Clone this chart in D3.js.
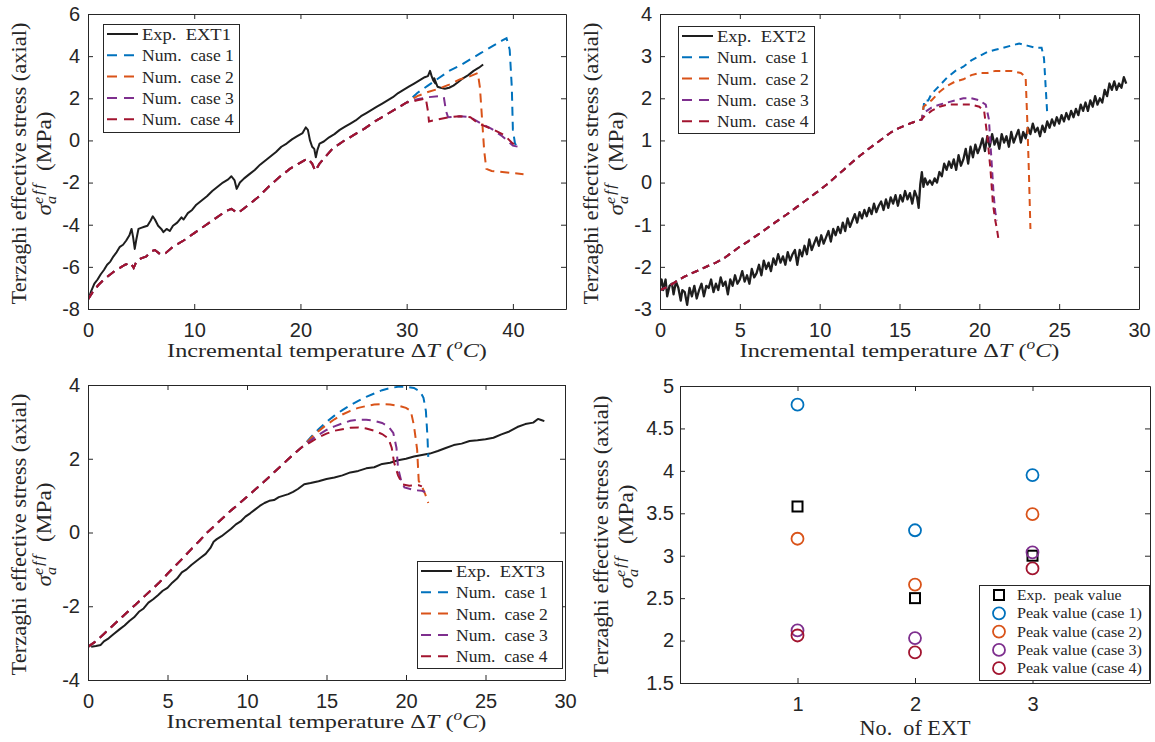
<!DOCTYPE html>
<html lang="en">
<head>
<meta charset="UTF-8">
<title>Terzaghi effective stress</title>
<script src="https://d3js.org/d3.v7.min.js"></script>
<style>
  body { margin: 0; background: #fff; }
  svg { display: block; }
</style>
</head>
<body>
<div id="fig"></div>
<script>
// ---- data ----
// EXT1: [dT, stress]
var ext1Exp = [[0.1,-7.45],[0.3,-7.15],[0.6,-6.8],[0.9,-6.6],[1.2,-6.35],[1.5,-6.15],[1.8,-5.9],[2.1,-5.75],[2.4,-5.5],[2.7,-5.3],[3.0,-5.05],[3.3,-4.95],[3.6,-4.75],[3.9,-4.5],[4.1,-4.2],[4.25,-4.6],[4.4,-5.15],[4.55,-4.7],[4.75,-4.2],[5.0,-4.15],[5.3,-4.1],[5.6,-4.05],[5.9,-3.8],[6.1,-3.6],[6.3,-3.75],[6.6,-4.05],[6.9,-4.2],[7.1,-4.35],[7.4,-4.2],[7.7,-4.3],[8.0,-4.05],[8.4,-3.9],[8.8,-3.65],[9.0,-3.75],[9.4,-3.45],[9.8,-3.3],[10.2,-3.05],[10.7,-2.85],[11.2,-2.65],[11.7,-2.4],[12.2,-2.2],[12.7,-2.0],[13.2,-1.85],[13.5,-1.7],[13.8,-1.9],[14.0,-2.3],[14.3,-2.0],[14.7,-1.8],[15.2,-1.6],[15.7,-1.4],[16.2,-1.15],[16.7,-0.95],[17.2,-0.75],[17.7,-0.55],[18.2,-0.3],[18.7,-0.15],[19.2,0.05],[19.7,0.2],[20.2,0.35],[20.5,0.62],[20.7,0.5],[20.9,0.0],[21.1,-0.3],[21.3,-0.4],[21.45,-0.8],[21.6,-0.45],[21.8,-0.15],[22.2,-0.05],[22.7,0.15],[23.2,0.3],[23.7,0.5],[24.2,0.65],[24.7,0.8],[25.2,0.95],[25.7,1.15],[26.2,1.3],[26.7,1.45],[27.2,1.6],[27.7,1.75],[28.2,1.9],[28.7,2.05],[29.2,2.25],[29.7,2.4],[30.2,2.55],[30.7,2.7],[31.2,2.85],[31.7,3.0],[32.0,3.05],[32.2,3.3],[32.35,3.05],[32.5,2.85],[32.7,2.7],[32.6,2.95],[32.9,2.55],[33.2,2.5],[33.6,2.45],[34.0,2.5],[34.4,2.6],[34.8,2.75],[35.3,2.95],[35.8,3.1],[36.3,3.3],[36.8,3.45],[37.2,3.6]];
// part shared by the four numerical cases
var ext1NumCommon = [[0,-7.55],[0.5,-7.15],[1,-6.85],[1.5,-6.6],[2,-6.4],[2.5,-6.2],[3,-6.05],[3.5,-5.9],[4,-5.8],[4.3,-6.05],[4.6,-5.7],[5,-5.6],[5.5,-5.5],[6,-5.25],[6.3,-5.2],[6.8,-5.4],[7.3,-5.35],[8,-5.05],[9,-4.75],[10,-4.4],[11,-4.05],[12,-3.7],[13,-3.35],[13.5,-3.25],[14.1,-3.45],[15,-3.1],[16,-2.7],[17,-2.2],[18,-1.75],[19,-1.35],[20,-1.05],[20.7,-0.85],[21.1,-1.1],[21.4,-1.45],[21.8,-1.1],[23,-0.4],[24,-0.05],[25,0.25],[26,0.55],[27,0.9],[28,1.2],[29,1.5],[30,1.8]];
var ext1Case1 = [[31,2.25],[32,2.6],[33,2.95],[34,3.3],[35,3.55],[36,3.85],[37,4.15],[38,4.45],[39,4.75],[39.4,4.85],[39.7,4.3],[39.9,2.5],[40.0,0.5],[40.2,-0.15],[40.4,-0.3]];
var ext1Case2 = [[31,2.1],[32,2.3],[33,2.45],[34,2.65],[35,2.9],[36,3.05],[36.7,3.2],[36.9,2.5],[37.1,1.0],[37.3,-0.5],[37.5,-1.35],[38,-1.45],[39,-1.5],[40,-1.55],[41,-1.6]];
var ext1Case3 = [[31,1.95],[32,2.05],[33,2.1],[33.5,2.05],[33.7,1.4],[33.9,1.1],[35,1.15],[36,1.1],[37,0.8],[38,0.55],[39,0.2],[40,-0.25],[40.5,-0.3]];
var ext1Case4 = [[31,1.9],[31.8,2.0],[32.0,1.4],[32.1,0.9],[33,1.0],[34,1.1],[35,1.15],[36,1.1],[36.5,0.9],[37,0.75],[38,0.55],[39,0.3],[39.5,0.1],[40,-0.15],[40.5,-0.2]];

// EXT2
var ext2Exp = [[0.0,-2.45],[0.1,-2.3],[0.2,-2.55],[0.35,-2.3],[0.45,-2.7],[0.6,-2.45],[0.75,-2.4],[0.85,-2.65],[1.0,-2.35],[1.15,-2.5],[1.3,-2.8],[1.4,-2.55],[1.55,-2.6],[1.7,-2.9],[1.85,-2.5],[2.0,-2.7],[2.15,-2.45],[2.3,-2.75],[2.45,-2.55],[2.6,-2.4],[2.75,-2.7],[2.9,-2.45],[3.05,-2.5],[3.2,-2.3],[3.35,-2.6],[3.5,-2.4],[3.65,-2.55],[3.8,-2.25],[3.95,-2.45],[4.1,-2.35],[4.25,-2.65],[4.4,-2.3],[4.55,-2.45],[4.7,-2.2],[4.85,-2.4],[5.0,-2.3],[5.15,-2.1],[5.3,-2.35],[5.45,-2.2],[5.6,-2.4],[5.75,-2.05],[5.9,-2.25],[6.05,-2.15],[6.2,-1.95],[6.35,-2.2],[6.5,-1.85],[6.65,-2.05],[6.8,-1.9],[6.95,-2.1],[7.1,-1.8],[7.25,-1.95],[7.4,-1.7],[7.55,-1.9],[7.7,-1.75],[7.85,-1.95],[8.0,-1.65],[8.15,-1.85],[8.3,-1.7],[8.45,-1.6],[8.6,-1.95],[8.75,-1.6],[8.9,-1.75],[9.05,-1.5],[9.2,-1.7],[9.35,-1.35],[9.5,-1.6],[9.65,-1.45],[9.8,-1.3],[9.95,-1.5],[10.1,-1.25],[10.25,-1.45],[10.4,-1.3],[10.55,-1.15],[10.7,-1.4],[10.85,-1.1],[11.0,-1.25],[11.15,-1.05],[11.3,-1.2],[11.45,-0.95],[11.6,-1.15],[11.75,-0.85],[11.9,-1.05],[12.05,-0.9],[12.2,-0.75],[12.35,-0.95],[12.5,-0.7],[12.65,-0.85],[12.8,-0.65],[12.95,-0.8],[13.1,-0.6],[13.25,-0.75],[13.4,-0.5],[13.55,-0.7],[13.7,-0.55],[13.85,-0.45],[14.0,-0.65],[14.15,-0.4],[14.3,-0.6],[14.45,-0.35],[14.6,-0.5],[14.75,-0.3],[14.9,-0.55],[15.05,-0.3],[15.2,-0.45],[15.35,-0.2],[15.5,-0.4],[15.65,-0.25],[15.8,-0.5],[15.95,-0.2],[16.1,-0.35],[16.2,-0.6],[16.3,-0.05],[16.4,0.25],[16.5,-0.1],[16.6,0.1],[16.75,-0.05],[16.9,0.05],[17.05,-0.05],[17.2,0.1],[17.35,0.0],[17.5,0.25],[17.65,0.15],[17.8,0.45],[17.95,0.3],[18.1,0.5],[18.25,0.35],[18.4,0.55],[18.55,0.3],[18.7,0.65],[18.85,0.4],[19.0,0.55],[19.15,0.8],[19.3,0.45],[19.45,0.85],[19.6,0.6],[19.75,0.9],[19.9,0.7],[20.05,0.85],[20.2,1.05],[20.35,0.75],[20.5,1.1],[20.65,0.85],[20.8,1.15],[20.95,0.9],[21.1,1.05],[21.25,0.8],[21.4,1.15],[21.55,0.95],[21.7,1.1],[21.85,0.85],[22.0,1.2],[22.15,0.95],[22.3,1.1],[22.45,1.25],[22.6,0.95],[22.75,1.2],[22.9,1.05],[23.05,1.3],[23.2,1.15],[23.35,1.4],[23.5,1.2],[23.65,1.3],[23.8,1.1],[23.95,1.35],[24.1,1.2],[24.25,1.45],[24.4,1.3],[24.55,1.5],[24.7,1.35],[24.85,1.55],[25.0,1.4],[25.15,1.6],[25.3,1.45],[25.45,1.65],[25.6,1.5],[25.75,1.7],[25.9,1.55],[26.05,1.75],[26.2,1.6],[26.35,1.85],[26.5,1.7],[26.65,1.9],[26.8,1.7],[26.95,1.95],[27.1,1.8],[27.25,2.05],[27.4,1.85],[27.55,2.0],[27.7,1.9],[27.85,2.2],[28.0,2.05],[28.15,2.35],[28.3,2.2],[28.45,2.4],[28.6,2.2],[28.75,2.35],[28.9,2.25],[29.05,2.5],[29.2,2.35]];
var ext2NumCommon = [[0,-2.55],[0.5,-2.47],[1,-2.35],[1.5,-2.24],[2,-2.15],[2.5,-2.07],[3,-1.98],[3.5,-1.9],[4,-1.8],[4.5,-1.66],[5,-1.52],[5.5,-1.4],[6,-1.27],[6.5,-1.14],[7,-1.0],[7.5,-0.87],[8,-0.74],[8.5,-0.6],[9,-0.46],[9.5,-0.32],[10,-0.18],[10.5,-0.03],[11,0.14],[11.5,0.3],[12,0.47],[12.5,0.63],[13,0.78],[13.5,0.92],[14,1.06],[14.5,1.2],[15,1.3],[15.5,1.38],[16,1.45],[16.4,1.5]];
var ext2Case1 = [[16.5,1.75],[16.55,1.95],[16.8,1.95],[17,2.1],[17.5,2.3],[18,2.5],[18.5,2.65],[19,2.75],[19.5,2.9],[20,3.0],[20.5,3.1],[21,3.15],[21.5,3.2],[22,3.25],[22.5,3.3],[23,3.25],[23.5,3.2],[23.9,3.2],[24.05,2.95],[24.15,2.3],[24.25,1.65]];
var ext2Case2 = [[16.5,1.8],[17,1.95],[17.5,2.15],[18,2.3],[18.5,2.4],[19,2.45],[19.5,2.55],[20,2.6],[20.5,2.6],[21,2.65],[21.5,2.65],[22,2.65],[22.6,2.6],[22.9,2.5],[23.0,1.5],[23.1,0.3],[23.2,-1.1]];
var ext2Case3 = [[16.5,1.65],[17,1.78],[17.5,1.85],[18,1.9],[18.5,1.95],[19,2.0],[19.5,2.0],[20,1.95],[20.4,1.85],[20.6,1.5],[20.75,0.6],[20.9,-0.3],[21.0,-0.7],[21.1,-0.9]];
var ext2Case4 = [[16.5,1.55],[17,1.7],[17.5,1.8],[18,1.85],[18.5,1.85],[19,1.85],[19.5,1.85],[20,1.8],[20.3,1.7],[20.5,1.1],[20.7,0.3],[20.85,-0.5],[21.0,-0.9],[21.1,-1.1],[21.2,-1.35]];

// EXT3
var ext3Exp = [[0.2,-3.1],[0.5,-3.08],[0.8,-3.05],[1.0,-2.95],[1.3,-2.87],[1.6,-2.76],[2.0,-2.62],[2.3,-2.52],[2.6,-2.4],[2.9,-2.3],[3.2,-2.15],[3.5,-2.06],[3.8,-1.9],[4.1,-1.81],[4.4,-1.7],[4.7,-1.58],[5.0,-1.5],[5.3,-1.36],[5.6,-1.25],[5.9,-1.08],[6.2,-1.0],[6.5,-0.88],[6.8,-0.78],[7.1,-0.68],[7.4,-0.58],[7.7,-0.42],[7.9,-0.25],[8.1,-0.18],[8.4,-0.1],[8.7,0.0],[9.0,0.1],[9.3,0.22],[9.6,0.3],[9.9,0.43],[10.2,0.52],[10.5,0.62],[10.8,0.72],[11.1,0.8],[11.4,0.86],[11.7,0.88],[12.0,0.96],[12.3,1.0],[12.6,1.04],[12.9,1.1],[13.2,1.18],[13.6,1.31],[14.0,1.34],[14.5,1.39],[15.0,1.45],[15.5,1.49],[16.0,1.55],[16.5,1.63],[17.0,1.67],[17.5,1.74],[18.0,1.77],[18.5,1.86],[19.0,1.89],[19.5,1.96],[20.0,2.0],[20.5,2.06],[21.0,2.1],[21.5,2.14],[22.0,2.21],[22.5,2.29],[23.0,2.37],[23.5,2.41],[24.0,2.48],[24.5,2.5],[25.0,2.53],[25.5,2.57],[26.0,2.66],[26.5,2.74],[27.0,2.86],[27.5,2.94],[28.0,2.98],[28.3,3.08],[28.5,3.05],[28.7,3.02]];
var ext3NumCommon = [[0,-3.1],[0.5,-2.95],[1,-2.75],[1.5,-2.55],[2,-2.35],[2.5,-2.15],[3,-1.95],[3.5,-1.75],[4,-1.55],[4.5,-1.35],[5,-1.12],[5.5,-0.9],[6,-0.68],[6.5,-0.45],[7,-0.23],[7.5,0.0],[8,0.2],[8.5,0.4],[9,0.6],[9.5,0.78],[10,0.97],[10.5,1.16],[11,1.35],[11.5,1.55],[12,1.75],[12.5,1.95],[13,2.15],[13.5,2.33]];
var ext3Case1 = [[14,2.58],[14.5,2.8],[15,3.0],[15.5,3.17],[16,3.32],[16.5,3.45],[17,3.57],[17.5,3.68],[18,3.77],[18.5,3.86],[19,3.92],[19.5,3.95],[20,3.95],[20.5,3.92],[20.9,3.82],[21.1,3.65],[21.25,3.3],[21.35,2.6],[21.4,2.05]];
var ext3Case2 = [[14,2.55],[14.5,2.75],[15,2.92],[15.5,3.07],[16,3.2],[16.5,3.3],[17,3.38],[17.5,3.43],[18,3.47],[18.5,3.48],[19,3.47],[19.5,3.44],[20,3.38],[20.3,3.3],[20.5,2.9],[20.7,2.25],[20.8,1.4],[21.0,1.25],[21.2,1.05],[21.4,0.8]];
var ext3Case3 = [[14,2.5],[14.5,2.65],[15,2.78],[15.5,2.88],[16,2.96],[16.5,3.03],[17,3.06],[17.5,3.06],[18,3.03],[18.5,2.97],[18.9,2.87],[19.2,2.7],[19.4,2.3],[19.5,1.75],[19.7,1.4],[19.9,1.22],[20.5,1.15],[21.0,1.13],[21.2,1.1]];
var ext3Case4 = [[14,2.45],[14.5,2.58],[15,2.68],[15.5,2.76],[16,2.8],[16.5,2.84],[17,2.85],[17.5,2.82],[18,2.76],[18.5,2.67],[18.9,2.55],[19.1,2.3],[19.25,1.9],[19.5,1.55],[19.8,1.3],[20.2,1.27],[20.8,1.28],[21.0,1.25]];

// peak values
var extNo = [1, 2, 3];
var peakExp   = [3.58, 2.50, 3.00];
var peakCase1 = [4.78, 3.30, 3.95];
var peakCase2 = [3.20, 2.66, 3.49];
var peakCase3 = [2.12, 2.03, 3.04];
var peakCase4 = [2.06, 1.86, 2.85];

// ticks and labels
var p1XTicks = [0, 10, 20, 30, 40];
var p1YTicks = [-8, -6, -4, -2, 0, 2, 4, 6];
var p2XTicks = [0, 5, 10, 15, 20, 25, 30];
var p2YTicks = [-3, -2, -1, 0, 1, 2, 3, 4];
var p3XTicks = [0, 5, 10, 15, 20, 25, 30];
var p3YTicks = [-4, -2, 0, 2, 4];
var p4XTicks = [1, 2, 3];
var p4YTicks = [1.5, 2, 2.5, 3, 3.5, 4, 4.5, 5];
var caseNames = ["Num.\u2002case 1", "Num.\u2002case 2", "Num.\u2002case 3", "Num.\u2002case 4"];
var peakNames = ["Exp.\u2002peak value", "Peak value (case 1)", "Peak value (case 2)", "Peak value (case 3)", "Peak value (case 4)"];

// ---- style ----
var INK = "#262626";
var EXP = "#1e1e1e";
var COLORS = ["#0072BD", "#D95319", "#7E2F8E", "#A2142F"];
var SANS = "'Liberation Sans', Arial, Helvetica, sans-serif";
var SERIF = "'Liberation Serif', 'Times New Roman', serif";

var svg = d3.select("#fig").append("svg")
  .attr("width", 1155).attr("height", 742);
svg.append("rect").attr("width", 1155).attr("height", 742).attr("fill", "#fff");

// text squeezed/stretched to a target width (the original uses Computer Modern)
function fitText(x, y, rot, target, anchor, size, build) {
  var g = svg.append("g").attr("transform", "translate(" + x + "," + y + ") rotate(" + rot + ")");
  var t = g.append("text").attr("text-anchor", anchor).attr("font-family", SERIF)
    .attr("font-size", size).attr("fill", INK);
  build(t);
  var w = t.node().getBBox().width;
  t.attr("transform", "scale(" + (target / w) + ",1)");
  return t;
}

function frame(box, x, y, xTicks, yTicks, yPad) {
  var g = svg.append("g");
  var fmt = function(d) { return String(d); };
  g.append("g").attr("transform", "translate(0," + box.b + ")")
    .call(d3.axisBottom(x).tickValues(xTicks).tickSize(-5).tickSizeOuter(0).tickPadding(14).tickFormat(fmt));
  g.append("g").attr("transform", "translate(0," + box.t + ")")
    .call(d3.axisTop(x).tickValues(xTicks).tickSize(-5).tickSizeOuter(0).tickFormat(""));
  g.append("g").attr("transform", "translate(" + box.l + ",0)")
    .call(d3.axisLeft(y).tickValues(yTicks).tickSize(-5).tickSizeOuter(0).tickPadding(yPad).tickFormat(fmt));
  g.append("g").attr("transform", "translate(" + box.r + ",0)")
    .call(d3.axisRight(y).tickValues(yTicks).tickSize(-5).tickSizeOuter(0).tickFormat(""));
  g.selectAll(".domain, .tick line").attr("stroke", INK).attr("stroke-width", 1);
  g.selectAll(".tick text").attr("fill", INK).attr("font-family", SANS).attr("font-size", 20);
}

function yTitle(box, off1, off2) {
  var cy = (box.t + box.b) / 2 + 2;
  fitText(box.l - off1, cy, -90, 282, "middle", 20, function(t) {
    t.text("Terzaghi effective stress (axial)");
  });
  fitText(box.l - off2, cy, -90, 104, "middle", 20, function(t) {
    t.append("tspan").attr("font-style", "italic").text("σ");
    t.append("tspan").attr("font-style", "italic").attr("font-size", 14).attr("dy", 5).text("a");
    t.append("tspan").attr("font-style", "italic").attr("font-size", 14).attr("letter-spacing", 1.5)
      .attr("dx", -7).attr("dy", -13).text("eff");
    t.append("tspan").attr("dy", 8).text("\u2002(MPa)");
  });
}

function xTitleTemp(box) {
  fitText((box.l + box.r) / 2, box.b + 48, 0, 320, "middle", 19.5, function(t) {
    t.append("tspan").text("Incremental temperature Δ");
    t.append("tspan").attr("font-style", "italic").text("T");
    t.append("tspan").text(" (");
    t.append("tspan").attr("font-style", "italic").attr("font-size", 14).attr("dy", -8).text("o");
    t.append("tspan").attr("font-style", "italic").attr("dy", 8).text("C");
    t.append("tspan").text(")");
  });
}

function linePanel(id, box, xDom, yDom, xTicks, yTicks, exp, common, tails, dash, leg) {
  var x = d3.scaleLinear().domain(xDom).range([box.l, box.r]);
  var y = d3.scaleLinear().domain(yDom).range([box.b, box.t]);
  svg.append("clipPath").attr("id", id).append("rect")
    .attr("x", box.l).attr("y", box.t).attr("width", box.r - box.l).attr("height", box.b - box.t);
  var line = d3.line().x(function(d) { return x(d[0]); }).y(function(d) { return y(d[1]); });
  var g = svg.append("g").attr("clip-path", "url(#" + id + ")");
  g.append("path").datum(exp.data).attr("d", line).attr("fill", "none")
    .attr("stroke", EXP).attr("stroke-width", exp.width).attr("stroke-linejoin", "round");
  tails.forEach(function(tail, i) {
    g.append("path").datum(common.concat(tail)).attr("d", line).attr("fill", "none")
      .attr("stroke", COLORS[i]).attr("stroke-width", 2).attr("stroke-dasharray", dash);
  });
  frame(box, x, y, xTicks, yTicks, 8);
  yTitle(box, 62, 37);
  xTitleTemp(box);

  // legend
  var lg = svg.append("g");
  lg.append("rect").attr("x", leg.x + 0.5).attr("y", leg.y + 0.5).attr("width", leg.w).attr("height", leg.h)
    .attr("fill", "#fff").attr("stroke", INK).attr("stroke-width", 1);
  var labels = [exp.name].concat(caseNames);
  labels.forEach(function(lab, i) {
    var cy = leg.y + 10 + i * 21.3;
    var sample = lg.append("line").attr("x1", leg.x + 4).attr("x2", leg.x + (i === 0 ? 35 : 31))
      .attr("y1", cy).attr("y2", cy).attr("stroke-width", 2)
      .attr("stroke", i === 0 ? EXP : COLORS[i - 1]);
    if (i > 0) sample.attr("stroke-dasharray", "10,7");
    fitText(leg.x + 39, cy + 6, 0, i === 0 ? 89 : 92, "start", 17, function(t) { t.text(lab); });
  });
}

// ---- panel 1 ----
linePanel("c1", {l: 88, r: 566, t: 14, b: 309}, [0, 45], [-8, 6], p1XTicks, p1YTicks,
  {data: ext1Exp, name: "Exp.\u2002EXT1", width: 2},
  ext1NumCommon, [ext1Case1, ext1Case2, ext1Case3, ext1Case4], "9,6",
  {x: 103, y: 24, w: 136, h: 108});

// ---- panel 2 ----
linePanel("c2", {l: 660, r: 1139, t: 14, b: 309}, [0, 30], [-3, 4], p2XTicks, p2YTicks,
  {data: ext2Exp, name: "Exp.\u2002EXT2", width: 2.3},
  ext2NumCommon, [ext2Case1, ext2Case2, ext2Case3, ext2Case4], "7,5",
  {x: 678, y: 26, w: 136, h: 107});

// ---- panel 3 ----
linePanel("c3", {l: 88, r: 565, t: 385, b: 680}, [0, 30], [-4, 4], p3XTicks, p3YTicks,
  {data: ext3Exp, name: "Exp.\u2002EXT3", width: 2},
  ext3NumCommon, [ext3Case1, ext3Case2, ext3Case3, ext3Case4], "9,6",
  {x: 417, y: 561, w: 145, h: 107});

// ---- panel 4: peak values ----
(function() {
  var box = {l: 680, r: 1150, t: 386, b: 683};
  var x = d3.scaleLinear().domain([0, 4]).range([box.l, box.r]);
  var y = d3.scaleLinear().domain([1.5, 5]).range([box.b, box.t]);
  var g = svg.append("g");
  g.selectAll("rect.exp").data(extNo).enter().append("rect").attr("class", "exp")
    .attr("x", function(d) { return x(d) - 5; })
    .attr("y", function(d, i) { return y(peakExp[i]) - 5; })
    .attr("width", 10).attr("height", 10)
    .attr("fill", "none").attr("stroke", "#000").attr("stroke-width", 2);
  [peakCase1, peakCase2, peakCase3, peakCase4].forEach(function(vals, k) {
    g.selectAll("circle.c" + k).data(extNo).enter().append("circle").attr("class", "c" + k)
      .attr("cx", function(d) { return x(d); })
      .attr("cy", function(d, i) { return y(vals[i]); })
      .attr("r", 6).attr("fill", "none").attr("stroke", COLORS[k]).attr("stroke-width", 1.8);
  });
  frame(box, x, y, p4XTicks, p4YTicks, 6);
  yTitle(box, 72, 47);
  fitText((box.l + box.r) / 2, box.b + 52, 0, 111, "middle", 20, function(t) { t.text("No.\u2002of EXT"); });

  var leg = {x: 979, y: 585, w: 170, h: 95};
  var lg = svg.append("g");
  lg.append("rect").attr("x", leg.x + 0.5).attr("y", leg.y + 0.5).attr("width", leg.w).attr("height", leg.h)
    .attr("fill", "#fff").attr("stroke", INK).attr("stroke-width", 1);
  peakNames.forEach(function(lab, i) {
    var cy = leg.y + 10 + i * 18.3;
    if (i === 0) {
      lg.append("rect").attr("x", leg.x + 15).attr("y", cy - 5).attr("width", 10).attr("height", 10)
        .attr("fill", "none").attr("stroke", "#000").attr("stroke-width", 2);
    } else {
      lg.append("circle").attr("cx", leg.x + 20).attr("cy", cy).attr("r", 6)
        .attr("fill", "none").attr("stroke", COLORS[i - 1]).attr("stroke-width", 1.8);
    }
    fitText(leg.x + 38, cy + 5, 0, i === 0 ? 105 : 125, "start", 15, function(t) { t.text(lab); });
  });
})();
</script>
</body>
</html>
